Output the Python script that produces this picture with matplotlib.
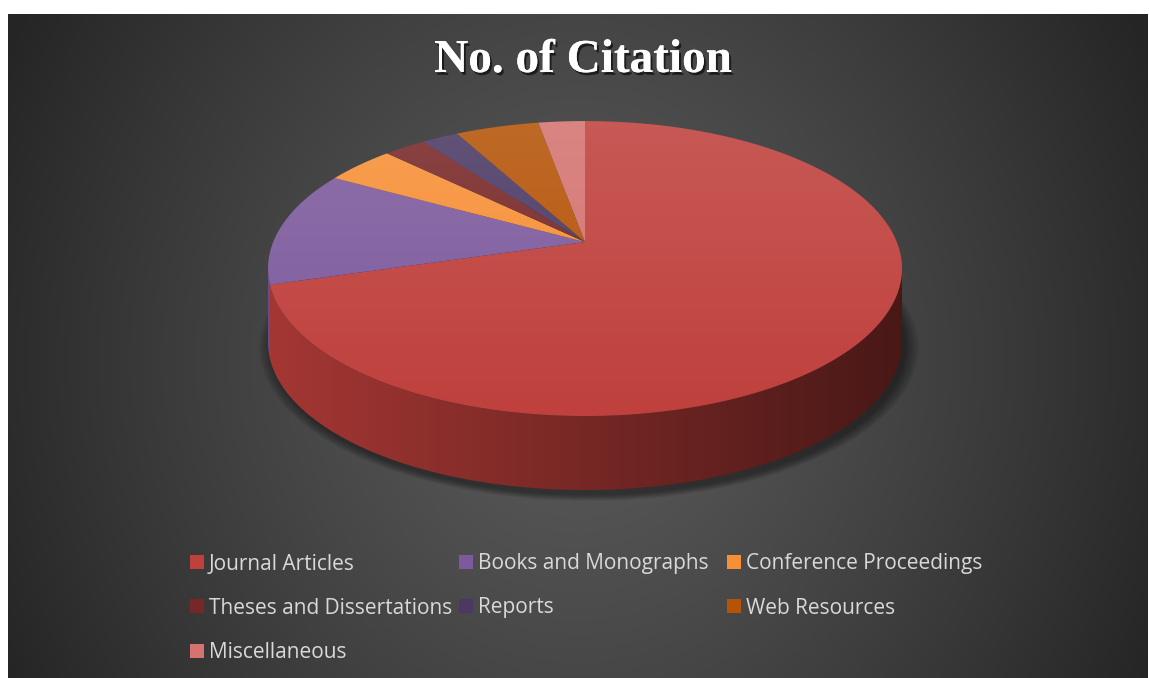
import numpy as np
import matplotlib
matplotlib.use("Agg")
import matplotlib.pyplot as plt
from matplotlib.patches import Polygon, Rectangle
from matplotlib.colors import to_rgb
import matplotlib.patheffects as pe

# ---------------- data ----------------
categories = ["Journal Articles", "Books and Monographs", "Conference Proceedings",
              "Theses and Dissertations", "Reports", "Web Resources", "Miscellaneous"]
citations = [250, 45, 15, 9, 8, 18, 10]
colors = ["#bf403c", "#7d5a9d", "#f78f36", "#782727", "#4b3964", "#b55307", "#d47370"]
title = "No. of Citation"

# ---------------- geometry (pixel space) ----------------
W, H = 1149, 678
CX, CY = 585.0, 242.0      # apex of the pie on screen
A, S, K = 311.8, 142.7, 0.18
DEPTH = 74.0

def proj(phi_deg, drop=0.0):
    """phi measured clockwise from 12 o'clock."""
    th = np.radians(90.0 - np.asarray(phi_deg, dtype=float))
    X, Z = np.cos(th), np.sin(th)
    w = 1.0 + K * Z
    return CX + A * X / w, CY - S * Z / w + drop

fig = plt.figure(figsize=(W / 100, H / 100), dpi=100, facecolor="white")
ax = fig.add_axes([0, 0, 1, 1])
ax.set_xlim(0, W)
ax.set_ylim(H, 0)
ax.axis("off")

# ---------------- background radial gradient ----------------
bx0, bx1, by0, by1 = 8, 1148, 14, 678
gx, gy = np.meshgrid(np.linspace(bx0, bx1, 400), np.linspace(by0, by1, 240))
d = np.sqrt(((gx - 578) / 640) ** 2 + ((gy - 360) / 720) ** 2)
d = np.clip(d, 0, 1) ** 1.25
c_in, c_out = np.array([0x5a, 0x5a, 0x5a]) / 255, np.array([0x25, 0x25, 0x25]) / 255
bg = c_in[None, None, :] * (1 - d[..., None]) + c_out[None, None, :] * d[..., None]
ax.imshow(bg, extent=(bx0, bx1, by1, by0), aspect="auto", zorder=0, interpolation="bilinear")

# ---------------- shadow ----------------
phis = np.linspace(0, 360, 361)
sx, sy = proj(phis, DEPTH)
ecy = CY + 26 + DEPTH
for i in range(9):
    f = 1.0 + i * 0.005
    px = CX + 4 + (sx - CX) * f
    py = ecy + 5 + (sy - ecy) * f
    ax.add_patch(Polygon(np.column_stack([px, py]), closed=True, facecolor="black",
                         edgecolor="none", alpha=0.05, zorder=1))

# ---------------- slices ----------------
total = float(sum(citations))
bounds = np.concatenate([[0.0], np.cumsum(citations) / total * 360.0])
phiR = 90.0 + np.degrees(np.arcsin(K))
phiL = 270.0 - np.degrees(np.arcsin(K))

top_y0, top_y1 = CY - S / (1 + K), CY + S / (1 - K)
xl, xr = CX - A / np.sqrt(1 - K * K), CX + A / np.sqrt(1 - K * K)

def grad_img_vertical(col, n=200):
    c = np.array(to_rgb(col))
    t = np.linspace(0, 1, n)[:, None]
    lift = 0.13 * (1 - t)
    rgb = c[None, :] * (1 - lift) + lift
    return np.repeat(rgb[:, None, :], 2, axis=1)

def grad_img_side(col, n=300):
    c = np.array(to_rgb(col))
    t = np.linspace(0, 1, n)
    f = 0.86 - 0.48 * t
    rgb = c[None, :] * f[:, None]
    return rgb[None, :, :]

# side pieces
for i, col in enumerate(colors):
    a, b = max(bounds[i], phiR), min(bounds[i + 1], phiL)
    if b <= a:
        continue
    ph = np.linspace(a, b, 120)
    tx, ty = proj(ph)
    bxp, byp = proj(ph[::-1], DEPTH)
    poly = Polygon(np.column_stack([np.r_[tx, bxp], np.r_[ty, byp]]), closed=True,
                   facecolor="none", edgecolor="none", zorder=2)
    ax.add_patch(poly)
    im = ax.imshow(grad_img_side(col), extent=(xl, xr, top_y1 + DEPTH, 200),
                   aspect="auto", zorder=2, interpolation="bilinear")
    im.set_clip_path(poly)

# top faces
for i, col in enumerate(colors):
    ph = np.linspace(bounds[i], bounds[i + 1], max(8, int(citations[i] * 3)))
    tx, ty = proj(ph)
    poly = Polygon(np.column_stack([np.r_[CX, tx], np.r_[CY, ty]]), closed=True,
                   facecolor="none", edgecolor="none", zorder=3)
    ax.add_patch(poly)
    im = ax.imshow(grad_img_vertical(col), extent=(xl - 2, xr + 2, top_y1 + 2, top_y0 - 2),
                   aspect="auto", zorder=3, interpolation="bilinear")
    im.set_clip_path(poly)

# ---------------- title ----------------
ax.text(583, 61, title, ha="center", va="center", color="white",
        fontsize=34, fontweight="bold", family=["Liberation Serif", "DejaVu Serif"],
        zorder=5,
        path_effects=[pe.withSimplePatchShadow(offset=(1.5, -2), shadow_rgbFace="black", alpha=0.6),
                      pe.Normal()])

# ---------------- legend ----------------
col_x = [190, 459, 727]
row_y = [562, 606, 651]
for i, (name, col) in enumerate(zip(categories, colors)):
    r, c = divmod(i, 3)
    x, y = col_x[c], row_y[r]
    ax.add_patch(Rectangle((x, y - 7), 14, 14, facecolor=col, edgecolor="none", zorder=5))
    ax.text(x + 19, y + 7.5, name, ha="left", va="baseline", color="#d9d9d9",
            fontsize=15, family=["Open Sans", "DejaVu Sans"], zorder=5)

ax.set_xlim(0, W)
ax.set_ylim(H, 0)
fig.savefig("out.png", dpi=100, facecolor="white")
